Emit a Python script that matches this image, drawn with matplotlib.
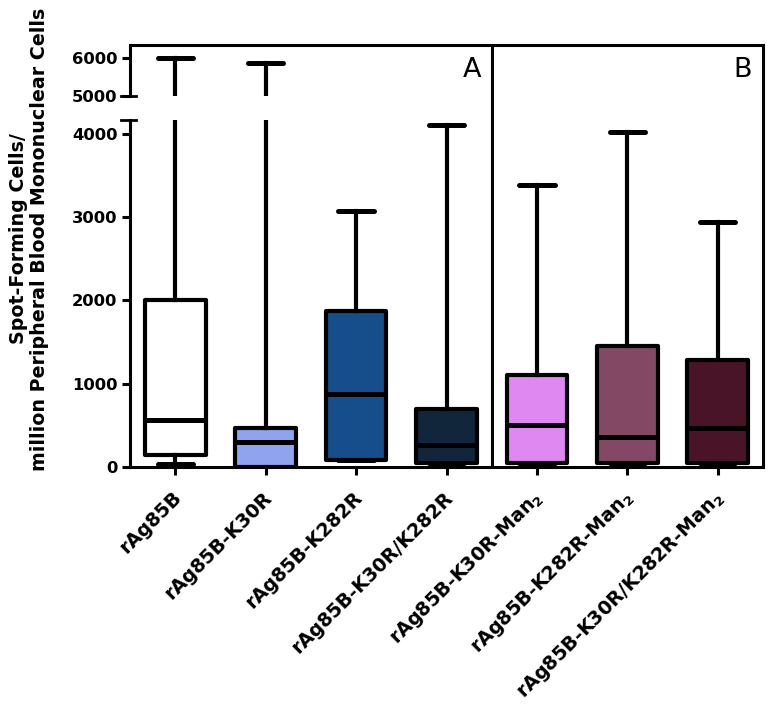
import matplotlib
matplotlib.use("Agg")
import matplotlib.pyplot as plt
from matplotlib.lines import Line2D
import matplotlib.transforms as mtransforms

plt.rcParams['font.family'] = ['DejaVu Sans']
plt.rcParams['font.weight'] = 'bold'
plt.rcParams['mathtext.default'] = 'bf'

# ---- data ----
categories = ['rAg85B', 'rAg85B-K30R', 'rAg85B-K282R', 'rAg85B-K30R/K282R',
              'rAg85B-K30R-Man$_2$', 'rAg85B-K282R-Man$_2$', 'rAg85B-K30R/K282R-Man$_2$']
whisker_min = [40, 0, 85, 50, 50, 50, 50]
q1 = [150, 0, 85, 50, 50, 50, 50]
median = [560, 300, 880, 260, 510, 360, 470]
q3 = [2000, 470, 1870, 700, 1110, 1450, 1290]
whisker_max = [6000, 5870, 3070, 4110, 3390, 4020, 2940]
colors = ['#FFFFFF', '#8FA3EE', '#154E8A', '#11263A', '#E088F2', '#834964', '#4A1428']
lower_ticks = [0, 1000, 2000, 3000, 4000]
upper_ticks = [5000, 6000]
panel_labels = ['A', 'B']

W, H = 776, 704
fig = plt.figure(figsize=(W / 100, H / 100), dpi=100)

def fx(px):
    return px / W

def fy(py):
    return 1 - py / H

L, R = 130, 763
lowT, lowB = 120, 467
upT, upB = 45, 96

ax_low = fig.add_axes([fx(L), fy(lowB), fx(R - L), (lowB - lowT) / H])
ax_up = fig.add_axes([fx(L), fy(upB), fx(R - L), (upB - upT) / H])
ax_frame = fig.add_axes([fx(L), fy(lowB), fx(R - L), (lowB - upT) / H])

stats = []
for i, c in enumerate(categories):
    stats.append(dict(label=c, whislo=whisker_min[i], q1=q1[i], med=median[i],
                      q3=q3[i], whishi=whisker_max[i], fliers=[]))

lw = 3.0
positions = list(range(len(categories)))
for ax in (ax_low, ax_up):
    bp = ax.bxp(stats, positions=positions, widths=0.67, capwidths=0.39,
                patch_artist=True, showfliers=False,
                boxprops=dict(linewidth=lw, edgecolor='black', joinstyle='round'),
                medianprops=dict(linewidth=lw + 0.6, color='black', solid_capstyle='butt'),
                whiskerprops=dict(linewidth=lw, color='black'),
                capprops=dict(linewidth=lw + 0.6, color='black', solid_capstyle='round'))
    for patch, col in zip(bp['boxes'], colors):
        patch.set_facecolor(col)
    ax.set_xlim(-0.5, 6.5)
    for s in ('top', 'right'):
        ax.spines[s].set_visible(False)
    ax.spines['left'].set_linewidth(2.2)
    ax.tick_params(axis='y', length=6, width=2.2, labelsize=11.8, pad=3)

ax_low.set_ylim(0, 4165)
ax_low.set_yticks(lower_ticks)
ax_low.set_yticklabels([str(t) for t in lower_ticks])
ax_low.spines['bottom'].set_linewidth(2.2)
ax_low.set_xticks(positions)
ax_low.set_xticklabels(categories, rotation=45, ha='right', va='center',
                       rotation_mode='anchor', fontsize=13.8)
ax_low.tick_params(axis='x', length=6, width=2.2, pad=3)
offset = mtransforms.ScaledTranslation(0.03, -0.15, fig.dpi_scale_trans)
for lab in ax_low.get_xticklabels():
    lab.set_transform(lab.get_transform() + offset)

ax_up.set_ylim(5000, 5000 + (upB - upT) / 38.0 * 1000)
ax_up.set_yticks(upper_ticks)
ax_up.set_yticklabels([str(t) for t in upper_ticks])
ax_up.spines['bottom'].set_visible(False)
ax_up.set_xticks([])

# frame overlay
ax_frame.patch.set_visible(False)
ax_frame.set_xlim(-0.5, 6.5)
ax_frame.set_ylim(0, 1)
ax_frame.set_xticks([])
ax_frame.set_yticks([])
for s in ('left', 'bottom'):
    ax_frame.spines[s].set_visible(False)
for s in ('top', 'right'):
    ax_frame.spines[s].set_linewidth(2.2)
ax_frame.axvline(3.5, color='black', lw=2.2)

# axis break caps
fig.add_artist(Line2D([fx(121), fx(136)], [fy(upB), fy(upB)], color='black', lw=2.0))
fig.add_artist(Line2D([fx(121), fx(136)], [fy(lowT), fy(lowT)], color='black', lw=2.0))

# panel labels
fig.text(fx(481), fy(57), panel_labels[0], fontsize=19.5, fontweight='normal',
         ha='right', va='top')
fig.text(fx(752), fy(57), panel_labels[1], fontsize=19.5, fontweight='normal',
         ha='right', va='top')

fig.text(fx(29), fy(239), 'Spot-Forming Cells/\nmillion Peripheral Blood Mononuclear Cells',
         rotation=90, ha='center', va='center', multialignment='center',
         fontsize=13.7, fontweight='bold', linespacing=1.15)

fig.savefig('out.png', dpi=100)
